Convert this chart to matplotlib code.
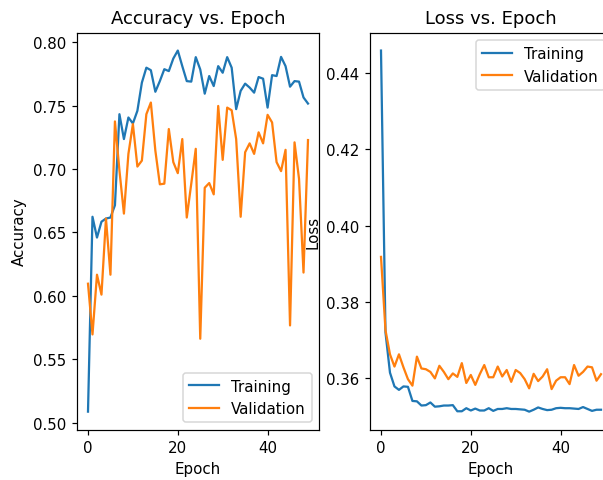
import matplotlib
matplotlib.use("Agg")
import matplotlib.pyplot as plt

epochs = list(range(50))

train_acc = [0.5087, 0.6624, 0.646, 0.6585, 0.661, 0.6618, 0.6715, 0.7433, 0.7237, 0.7407,
             0.736, 0.746, 0.7682, 0.78, 0.778, 0.761, 0.7694, 0.7788, 0.7773, 0.7872,
             0.7935, 0.7812, 0.7694, 0.769, 0.7883, 0.7786, 0.7595, 0.7734, 0.7655, 0.7812,
             0.776, 0.7883, 0.78, 0.7473, 0.7617, 0.7674, 0.7643, 0.7603, 0.7726, 0.7713,
             0.7485, 0.7741, 0.7734, 0.7885, 0.7812, 0.765, 0.7694, 0.769, 0.7565, 0.7517]

val_acc = [0.6096, 0.5696, 0.6167, 0.601, 0.661, 0.6167, 0.7376, 0.699, 0.6649, 0.712,
           0.7355, 0.702, 0.7067, 0.7433, 0.7525, 0.7146, 0.688, 0.6885, 0.7316, 0.7055,
           0.6968, 0.7237, 0.6618, 0.6885, 0.716, 0.5662, 0.6853, 0.689, 0.6801, 0.7498,
           0.7073, 0.7485, 0.7464, 0.7237, 0.6624, 0.7133, 0.7203, 0.712, 0.729, 0.7203,
           0.7428, 0.7368, 0.7055, 0.6984, 0.7152, 0.5767, 0.7211, 0.6924, 0.6184, 0.7229]

train_loss = [0.4458, 0.372, 0.3615, 0.3579, 0.3570, 0.3579, 0.3578, 0.3541, 0.354, 0.3529,
              0.353, 0.3537, 0.3526, 0.3527, 0.3529, 0.3529, 0.353, 0.3514, 0.3514, 0.3522,
              0.3516, 0.3521, 0.3516, 0.3516, 0.3522, 0.3515, 0.352, 0.352, 0.3522, 0.352,
              0.352, 0.3519, 0.3518, 0.3513, 0.3518, 0.3524, 0.352, 0.3517, 0.3518, 0.3522,
              0.3523, 0.3522, 0.3522, 0.3521, 0.352, 0.3525, 0.352, 0.3515, 0.3518, 0.3518]

val_loss = [0.3918, 0.3726, 0.3663, 0.3631, 0.3663, 0.3629, 0.3598, 0.3581, 0.3657, 0.3626,
            0.3624, 0.3617, 0.36, 0.3633, 0.3617, 0.3598, 0.3613, 0.3604, 0.364, 0.3588,
            0.3609, 0.3583, 0.3611, 0.3635, 0.3603, 0.3603, 0.3631, 0.3605, 0.3622, 0.3591,
            0.3622, 0.3614, 0.3598, 0.3574, 0.3612, 0.3593, 0.3605, 0.3624, 0.3572, 0.3594,
            0.3603, 0.3603, 0.3585, 0.3635, 0.3607, 0.3617, 0.3631, 0.3629, 0.3594, 0.3611]

DPI = 108
fig = plt.figure(figsize=(603 / DPI, 481 / DPI), dpi=DPI)
ax1 = fig.add_axes([77 / 603, 50.3 / 481, 242 / 603, 397.2 / 481])
ax2 = fig.add_axes([370 / 603, 50.3 / 481, 242 / 603, 397.2 / 481])

ax1.plot(epochs, train_acc, label="Training")
ax1.plot(epochs, val_acc, label="Validation")
ax1.set_title("Accuracy vs. Epoch", fontsize=12)
ax1.set_xlabel("Epoch")
ax1.set_ylabel("Accuracy")
ax1.legend(loc="lower right")

ax2.plot(epochs, train_loss, label="Training")
ax2.plot(epochs, val_loss, label="Validation")
ax2.set_title("Loss vs. Epoch", fontsize=12)
ax2.set_xlabel("Epoch")
ax2.set_ylabel("Loss")
ax2.legend(loc="upper right")

fig.savefig("out.png", dpi=DPI)
